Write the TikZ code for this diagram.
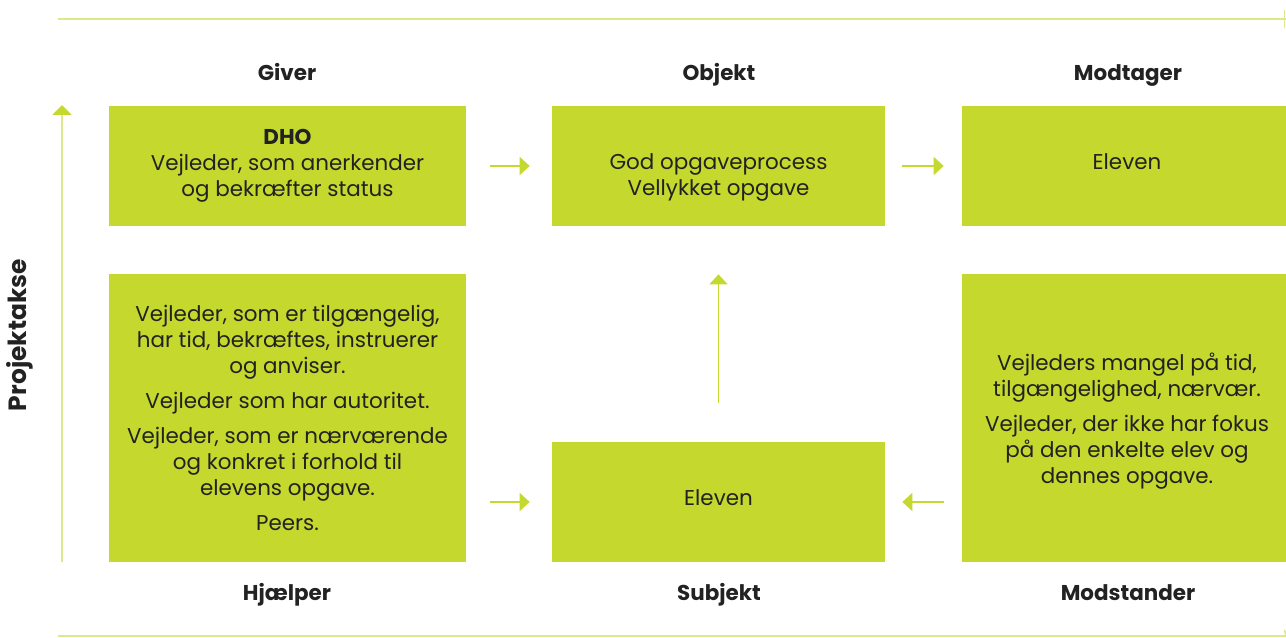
\documentclass[tikz,border=0pt]{standalone}
\usepackage{fontspec}
\setmainfont{Poppins}
\usepackage{xcolor}
\usetikzlibrary{positioning,arrows.meta,calc}
\definecolor{boxgreen}{HTML}{C5D82E}
\definecolor{linegreen}{HTML}{DCE88A}
\definecolor{txtgray}{HTML}{222222}

\begin{document}
\begin{tikzpicture}[
  x=0.02cm, y=-0.02cm, font=\fontsize{12.2}{14.8}\selectfont, text=txtgray,
  >={Triangle[length=0.2cm, width=0.36cm]},
  actbox/.style={fill=boxgreen, inner sep=0pt, align=center},
  role/.style={font=\fontsize{12.2}{14.8}\selectfont\bfseries, anchor=base},
  arr/.style={->, boxgreen, line width=1pt},
  rule/.style={linegreen, line width=0.9pt}]
\useasboundingbox (0,0) rectangle (1286,638);
% frame lines
\coordinate (tl) at (58,19); \coordinate (tr) at (1286,19);
\coordinate (bl) at (58,636); \coordinate (br) at (1286,636);
\draw[rule] (tl) -- (tr);
\draw[rule] (bl) -- (br);
\draw[rule] ($(tr)+(-1.5,-9)$) -- ($(tr)+(-1.5,9)$);
\draw[rule] ($(br)+(-1.5,-6)$) -- (br);
% project axis
\coordinate (axbot) at (62,562); \coordinate (axtop) at (62,105);
\draw[rule, line width=1.1pt, -{Triangle[length=0.2cm, width=0.38cm, color=boxgreen]}] (axbot) -- (axtop);
\node[font=\fontsize{14.2}{16}\selectfont\bfseries, rotate=90] (akse) at (20,335) {Projektakse};
% actant boxes
\node[actbox, minimum width=357*0.02cm, minimum height=120*0.02cm] (giver) at (287.5,166)
  {\textbf{DHO}\\Vejleder, som anerkender\\og bekræfter status};
\node[actbox, minimum width=333*0.02cm, minimum height=120*0.02cm] (objekt) at (718.5,166) {};
\node[align=center] (objekttxt) at (718.5,177) {God opgaveprocess\\Vellykket opgave};
\node[actbox, minimum width=324*0.02cm, minimum height=120*0.02cm] (modtager) at (1124,166) {};
\node (modtagertxt) at (1127,162) {Eleven};
\node[actbox, minimum width=357*0.02cm, minimum height=288*0.02cm] (hjaelper) at (287.5,418)
  {Vejleder, som er tilgængelig,\\har tid, bekræftes, instruerer\\og anviser.\\[5pt]
   Vejleder som har autoritet.\\[5pt]
   Vejleder, som er nærværende\\og konkret i forhold til\\elevens opgave.\\[5pt]
   Peers.};
\node[actbox, minimum width=333*0.02cm, minimum height=120*0.02cm] (subjekt) at (718.5,502) {};
\node (subjekttxt) at (718.5,498) {Eleven};
\node[actbox, minimum width=324*0.02cm, minimum height=288*0.02cm] (modstander) at (1124,418) {};
\node[align=center] (modstandertxt) at (1127,421)
  {Vejleders mangel på tid,\\tilgængelighed, nærvær.\\[5pt]
   Vejleder, der ikke har fokus\\på den enkelte elev og\\dennes opgave.};
% role labels
\foreach \n/\x/\y/\t in {lgiver/287/81/Giver, lobjekt/719/81/Objekt, lmodtager/1128/81/Modtager,
  lhjaelper/287/601/Hjælper, lsubjekt/719/601/Subjekt, lmodstander/1128/601/Modstander}{
  \node[role] (\n) at (\x,\y) {\t};
}
% arrows
\draw[arr, shorten <=0.48cm, shorten >=0.44cm] (giver) -- (objekt);
\draw[arr, shorten <=0.34cm, shorten >=0.36cm] (objekt) -- (modtager);
\draw[arr, shorten <=0.48cm, shorten >=0.44cm] (hjaelper.east |- subjekt) -- (subjekt.west);
\draw[arr, shorten <=0.36cm, shorten >=0.34cm] (modstander.west |- subjekt) -- (subjekt.east);
\draw[arr, shorten <=0.78cm, shorten >=0.96cm] (subjekt.north) -- (objekt.south);
\end{tikzpicture}
\end{document}
